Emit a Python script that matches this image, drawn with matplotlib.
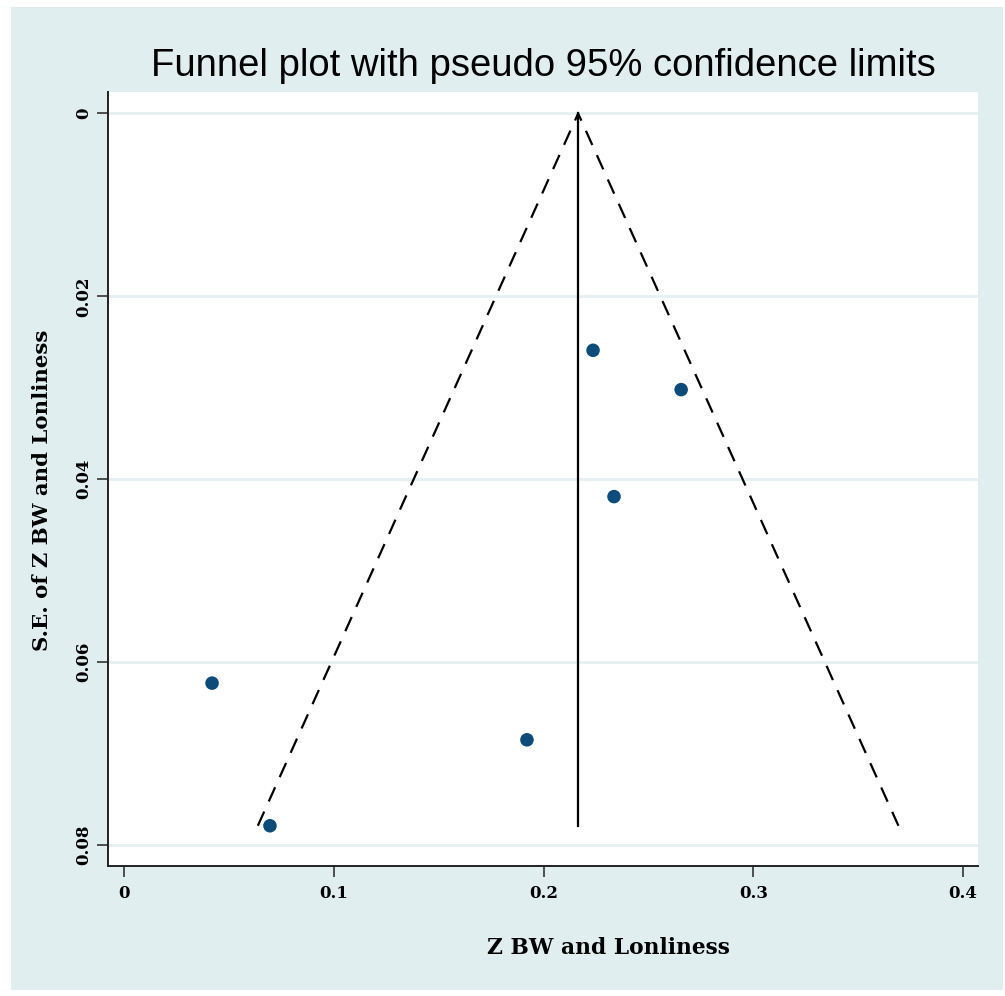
import matplotlib

matplotlib.use("Agg")

import numpy as np
from matplotlib import patches, pyplot as plt

# study estimates (x) and standard errors (y)
effect = [0.2236, 0.2656, 0.2336, 0.0420, 0.1921, 0.0696]
std_err = [0.0259, 0.0302, 0.0419, 0.0623, 0.0685, 0.0779]
pooled = 0.2165

x_ticks = [0, 0.1, 0.2, 0.3, 0.4]
x_tick_labels = ["0", "0.1", "0.2", "0.3", "0.4"]
y_ticks = [0, 0.02, 0.04, 0.06, 0.08]
y_tick_labels = ["0", "0.02", "0.04", "0.06", "0.08"]

title = "Funnel plot with pseudo 95% confidence limits"
x_label = "Z BW and Lonliness"
y_label = "S.E. of Z BW and Lonliness"

outer_bg = "#e1eef0"
grid_color = "#e5f0f2"
marker_color = "#0d4c7a"
serif = ["DejaVu Serif"]

W, H = 1005, 996
fig = plt.figure(figsize=(W / 100, H / 100), dpi=100, facecolor="white")
fig.patches.append(
    patches.Rectangle(
        (11 / W, 1 - 990 / H), (1003 - 11) / W, (990 - 7) / H,
        transform=fig.transFigure, facecolor=outer_bg, edgecolor="none", zorder=-5,
    )
)

ax = fig.add_axes([108 / W, 1 - 866 / H, (978 - 108) / W, (866 - 92) / H])
ax.set_facecolor("white")

se_max = max(std_err)
ax.plot([pooled - 1.96 * se_max, pooled, pooled + 1.96 * se_max], [se_max, 0, se_max],
        color="black", linewidth=1.6, dashes=(7, 5), zorder=3)
ax.plot([pooled, pooled], [0, se_max], color="black", linewidth=1.6, zorder=3)
ax.scatter(effect, std_err, s=95, color=marker_color, edgecolors="none", zorder=4)

ax.set_xlim(-0.0076, 0.4071)
ax.set_ylim(0.0823, -0.00235)

ax.set_xticks(x_ticks)
ax.set_xticklabels(x_tick_labels, fontfamily=serif, fontweight="bold", fontsize=12)
ax.set_yticks(y_ticks)
ax.set_yticklabels(y_tick_labels, fontfamily=serif, fontweight="bold", fontsize=12,
                   rotation=90, va="center")
ax.tick_params(direction="out", length=8, width=1.2, color="#333333", pad=6)
ax.tick_params(axis="y", pad=3)

ax.grid(axis="y", color=grid_color, linewidth=2.0, zorder=1)
ax.set_axisbelow(True)
for side in ("top", "right"):
    ax.spines[side].set_visible(False)
for side in ("left", "bottom"):
    ax.spines[side].set_linewidth(1.4)
    ax.spines[side].set_color("#222222")

fig.text(543 / W, 1 - 66 / H, title, ha="center", va="center",
         fontfamily=["Liberation Sans", "DejaVu Sans"], fontsize=27.5)
fig.text(608 / W, 1 - 948 / H, x_label, ha="center", va="center",
         fontfamily=serif, fontweight="bold", fontsize=15.7)
fig.text(42 / W, 1 - 490 / H, y_label, ha="center", va="center", rotation=90,
         fontfamily=serif, fontweight="bold", fontsize=15.3)

fig.savefig("out.png", dpi=100, facecolor="white")
